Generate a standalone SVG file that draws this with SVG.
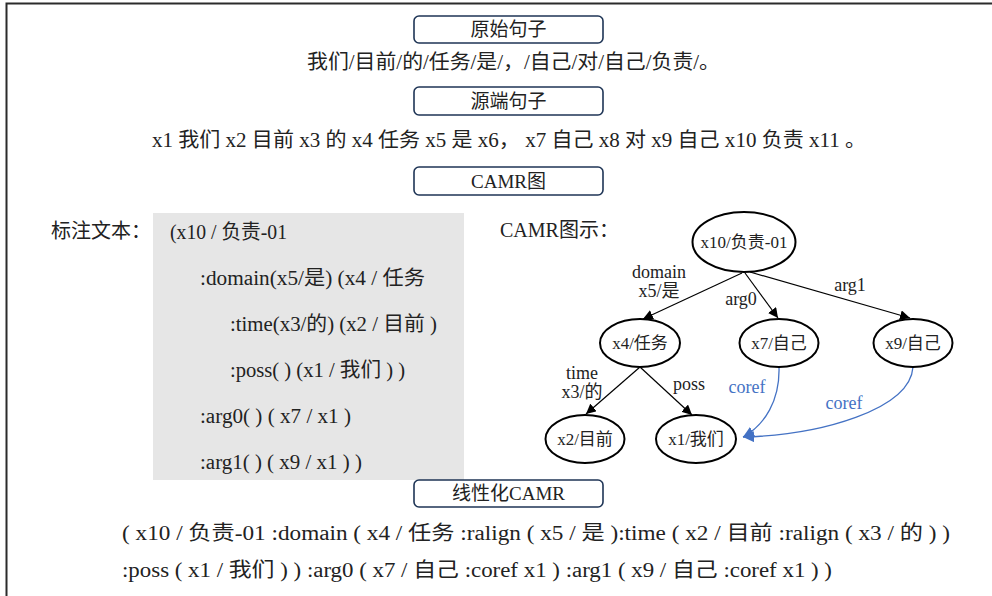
<svg xmlns="http://www.w3.org/2000/svg" width="992" height="596" viewBox="0 0 992 596">
<defs>
<style>
.frame{stroke:#2b2b2b;stroke-width:2;fill:none}
.lbox{fill:#fff;stroke:#1f3556;stroke-width:1.6}
.lt{font-size:19px;fill:#222;text-anchor:middle}
.t20{font-size:20px;fill:#222}
.t19{font-size:20px;fill:#222}
.node{fill:#fff;stroke:#000;stroke-width:2}
.nt{font-size:17px;fill:#222;text-anchor:middle}
.el{font-size:18px;fill:#222;text-anchor:middle}
.cl{font-size:18px;fill:#4472c4;text-anchor:middle}
.edge{stroke:#000;stroke-width:1.2;fill:none;marker-end:url(#ah)}
.coref{stroke:#4472c4;stroke-width:1.3;fill:none;marker-end:url(#bh)}
</style>
<marker id="ah" viewBox="0 0 10 10" refX="10" refY="5" markerWidth="10" markerHeight="10" markerUnits="userSpaceOnUse" orient="auto">
<path d="M0,0 L10,5 L0,10 z" fill="#000"/>
</marker>
<marker id="bh" viewBox="0 0 10 10" refX="10" refY="5" markerWidth="11" markerHeight="11" markerUnits="userSpaceOnUse" orient="auto">
<path d="M0,0 L10,5 L0,10 z" fill="#4472c4"/>
</marker>
</defs>
<rect width="992" height="596" fill="#fff"/>
<path class="frame" d="M6.5,596 V3.5 H992"/>
<g font-family="'Liberation Serif', 'Noto Sans CJK SC', serif">
<g id="box-yuanshi">
<rect class="lbox" x="414" y="16" width="189" height="27" rx="5"/>
<text class="lt" x="508.5" y="36">原始句子</text>
</g>
<text class="t20" x="307" y="69" textLength="413" lengthAdjust="spacingAndGlyphs">我们/目前/的/任务/是/，/自己/对/自己/负责/。</text>

<g id="box-yuanduan">
<rect class="lbox" x="414" y="87" width="189" height="28" rx="5"/>
<text class="lt" x="508.5" y="108">源端句子</text>
</g>
<text class="t20" x="152" y="147" textLength="714" lengthAdjust="spacingAndGlyphs">x1 我们 x2 目前 x3 的 x4 任务 x5 是 x6， x7 自己 x8 对 x9 自己 x10 负责 x11 。</text>

<g id="box-camr">
<rect class="lbox" x="414" y="167" width="189" height="28" rx="5"/>
<text class="lt" x="508.5" y="188">CAMR图</text>
</g>

<g id="annotation">
<text class="t20" x="51" y="238">标注文本：</text>
<rect x="153" y="213" width="311" height="267" fill="#e6e6e6"/>
<text class="t19" x="170" y="239" textLength="117" lengthAdjust="spacingAndGlyphs">(x10 / 负责-01</text>
<text class="t19" x="200" y="285" textLength="225" lengthAdjust="spacingAndGlyphs">:domain(x5/是) (x4 / 任务</text>
<text class="t19" x="230" y="331" textLength="207" lengthAdjust="spacingAndGlyphs">:time(x3/的) (x2 / 目前 )</text>
<text class="t19" x="230" y="377" textLength="175" lengthAdjust="spacingAndGlyphs">:poss( ) (x1 / 我们 ) )</text>
<text class="t19" x="200" y="423" textLength="151" lengthAdjust="spacingAndGlyphs">:arg0( ) ( x7 / x1 )</text>
<text class="t19" x="200" y="469" textLength="162" lengthAdjust="spacingAndGlyphs">:arg1( ) ( x9 / x1 ) )</text>
</g>

<text class="t20" x="500" y="237">CAMR图示：</text>

<g id="connectors">
<path class="edge" d="M742,273 L643,319"/>
<path class="edge" d="M745,273 L778,318"/>
<path class="edge" d="M750,272 L910,318"/>
<path class="edge" d="M640,367 L586,414"/>
<path class="edge" d="M640,367 L692,415"/>
<path class="coref" d="M779,367 C780,400 765,425 743,437"/>
<path class="coref" d="M913,367 C910,410 820,435 743,437"/>
<text class="el" x="659" y="278">domain</text>
<text class="el" x="659" y="297">x5/是</text>
<text class="el" x="741" y="305">arg0</text>
<text class="el" x="850" y="291">arg1</text>
<text class="el" x="582" y="379">time</text>
<text class="el" x="582" y="398">x3/的</text>
<text class="el" x="689" y="390">poss</text>
<text class="cl" x="747" y="393">coref</text>
<text class="cl" x="844" y="409">coref</text>
</g>

<g id="n-x10">
<ellipse class="node" cx="744" cy="242" rx="51.5" ry="30"/>
<text class="nt" x="744" y="248">x10/负责-01</text>
</g>
<g id="n-x4">
<ellipse class="node" cx="640" cy="343" rx="40" ry="24"/>
<text class="nt" x="640" y="349">x4/任务</text>
</g>
<g id="n-x7">
<ellipse class="node" cx="779" cy="343" rx="39.5" ry="24"/>
<text class="nt" x="779" y="349">x7/自己</text>
</g>
<g id="n-x9">
<ellipse class="node" cx="913" cy="343" rx="39.5" ry="24"/>
<text class="nt" x="913" y="349">x9/自己</text>
</g>
<g id="n-x2">
<ellipse class="node" cx="585" cy="439" rx="39.5" ry="24"/>
<text class="nt" x="585" y="445">x2/目前</text>
</g>
<g id="n-x1">
<ellipse class="node" cx="696" cy="439" rx="40" ry="24"/>
<text class="nt" x="696" y="445">x1/我们</text>
</g>

<g id="box-linear">
<rect class="lbox" x="414" y="480" width="189" height="27" rx="5"/>
<text class="lt" x="508.5" y="500">线性化CAMR</text>
</g>
<text class="t20" x="122" y="540" textLength="828" lengthAdjust="spacingAndGlyphs">( x10 / 负责-01 :domain ( x4 / 任务 :ralign ( x5 / 是 ):time ( x2 / 目前 :ralign ( x3 / 的 ) )</text>
<text class="t20" x="122" y="577" textLength="710" lengthAdjust="spacingAndGlyphs">:poss ( x1 / 我们 ) ) :arg0 ( x7 / 自己 :coref x1 ) :arg1 ( x9 / 自己 :coref x1 ) )</text>
</g>
</svg>
